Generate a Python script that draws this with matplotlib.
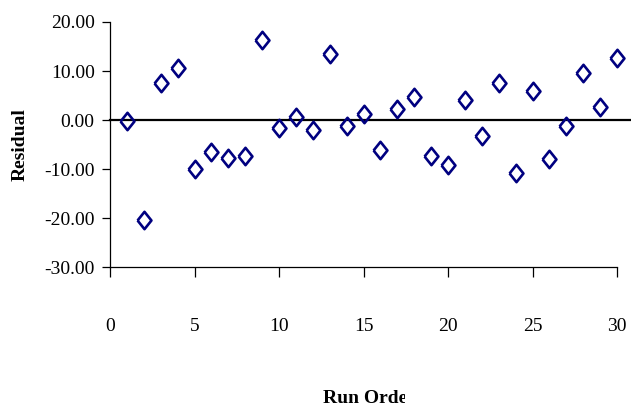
import matplotlib
matplotlib.use('Agg')
import matplotlib.pyplot as plt
from matplotlib.transforms import Bbox, blended_transform_factory
import numpy as np

# residuals against run order
run_order = list(range(1, 31))
residual = [-0.2, -20.4, 7.6, 10.7, -10.0, -6.4, -7.7, -7.3, 16.3, -1.6,
            0.6, -2.0, 13.4, -1.1, 1.2, -6.0, 2.2, 4.7, -7.4, -9.2,
            4.2, -3.3, 7.5, -10.8, 5.9, -8.0, -1.1, 9.6, 2.7, 12.7]
x_ticks = [0, 5, 10, 15, 20, 25, 30]
y_ticks = [-30, -20, -10, 0, 10, 20]
y_ticklabels = ['-30.00', '-20.00', '-10.00', '0.00', '10.00', '20.00']

plt.rcParams['font.family'] = ['Liberation Serif', 'DejaVu Serif']

W, H = 631, 409
fig = plt.figure(figsize=(W / 100, H / 100), dpi=100)
ax = fig.add_axes([110 / W, 1 - 267.3 / H, (617 - 110) / W, (267.3 - 22) / H])

# open diamond, a bit taller than wide
diamond = [(-0.8, 0), (0, 1), (0.8, 0), (0, -1), (-0.8, 0)]
ax.plot(run_order, residual, linestyle='none', marker=diamond,
        markersize=12.5, markerfacecolor='none', markeredgecolor='#000080',
        markeredgewidth=1.9, clip_on=False, zorder=3)

# zero line runs past the end of the axis
trans = blended_transform_factory(ax.transAxes, ax.transData)
ax.plot([0, (W - 110) / (617 - 110)], [0, 0], color='black', lw=1.6,
        transform=trans, clip_on=False, zorder=2)

ax.set_xlim(0, 30)
ax.set_ylim(-30, 20)
ax.set_xticks(x_ticks)
ax.set_yticks(y_ticks)
ax.set_yticklabels(y_ticklabels)
ax.spines['top'].set_visible(False)
ax.spines['right'].set_visible(False)
for s in ['left', 'bottom']:
    ax.spines[s].set_linewidth(0.9)
ax.tick_params(axis='x', direction='out', length=7.5, width=0.9,
               pad=29, labelsize=14)
ax.tick_params(axis='y', direction='out', length=6, width=0.9,
               pad=5, labelsize=14)

fig.text(20.5 / W, 1 - 145 / H, 'Residual', rotation=90, ha='center',
         va='center', fontsize=14, fontweight='bold')

# axis title gets cut off at the right
xl = fig.text(323 / W, 1 - 403 / H, 'Run Order', ha='left', va='baseline',
              fontsize=14, fontweight='bold')
xl.set_clip_box(Bbox.from_extents(0, 0, 405, H))
xl.set_clip_on(True)

fig.savefig('out.png', dpi=100)
